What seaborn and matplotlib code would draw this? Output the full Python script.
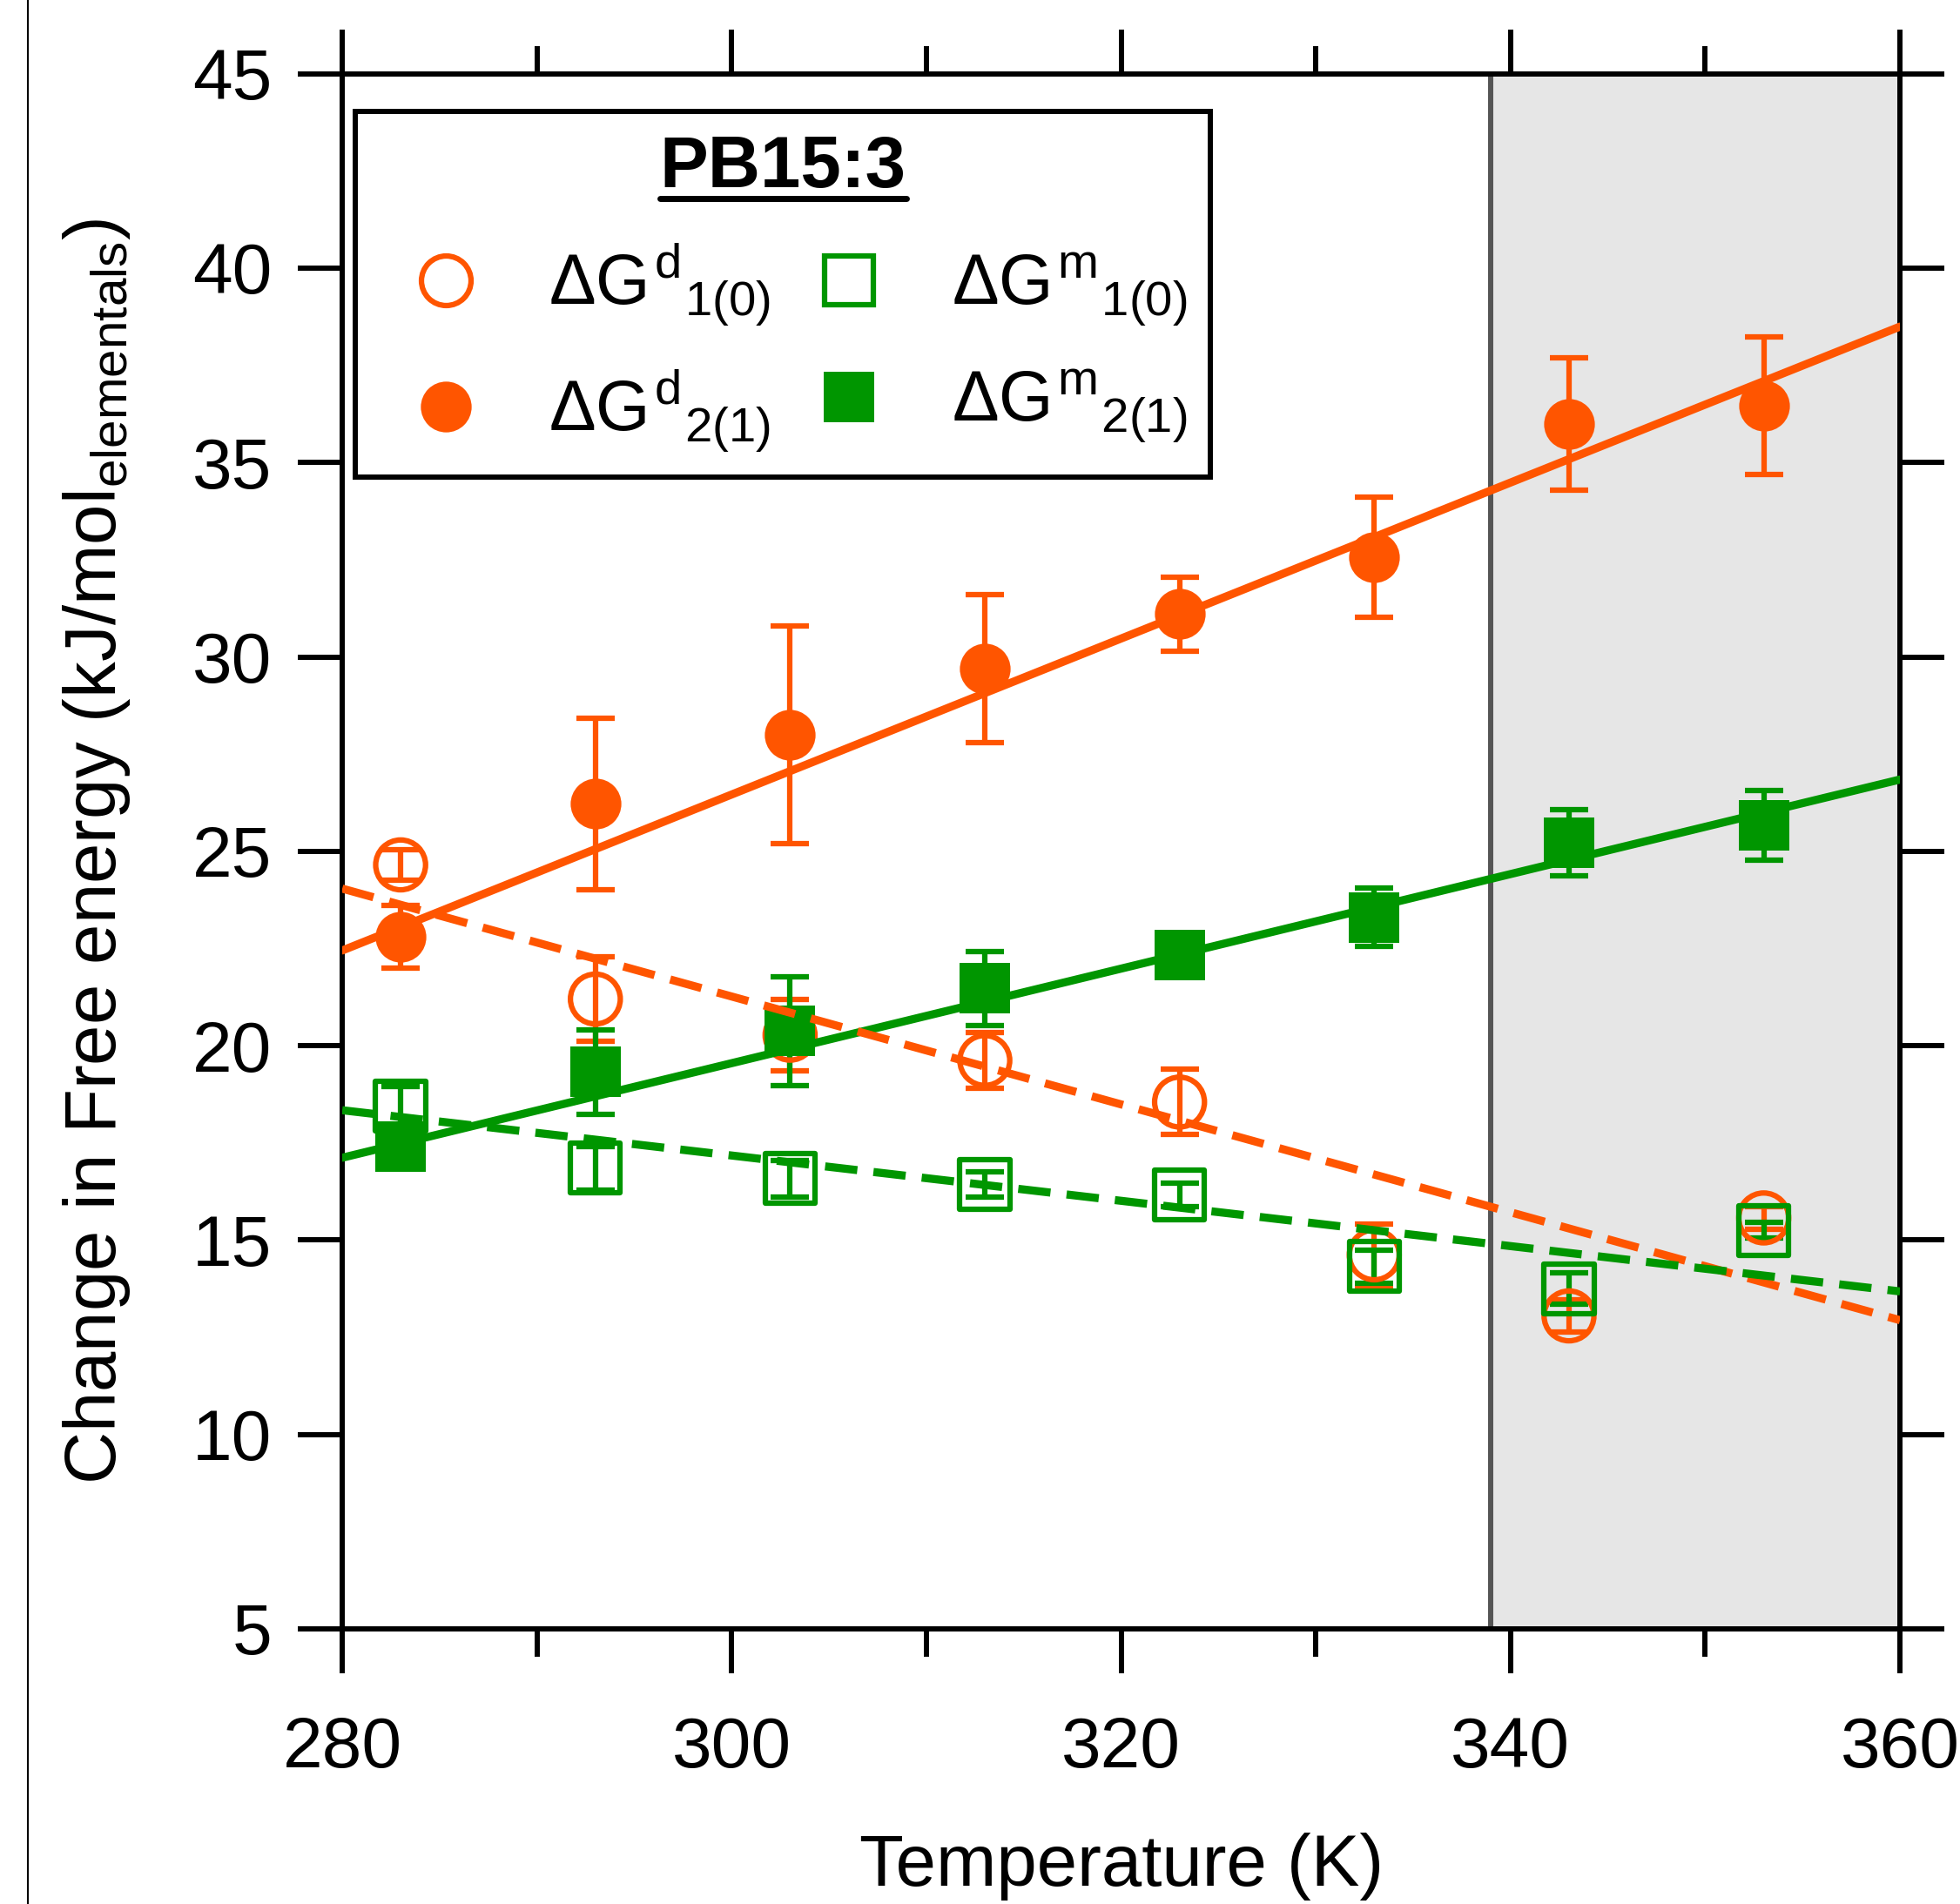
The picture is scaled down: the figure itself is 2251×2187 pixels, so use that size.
import matplotlib
matplotlib.use('Agg')
import matplotlib.pyplot as plt
import seaborn as sns
import numpy as np
from matplotlib.lines import Line2D

# temperatures (K)
temperature = [283, 293, 303, 313, 323, 333, 343, 353]

# dG^d_1(0)  open circles
dGd10 = [24.65, 21.2, 20.27, 19.62, 18.55, 14.62, 13.05, 15.57]
dGd10_err = [0.4, 1.08, 0.92, 0.71, 0.84, 0.79, 0.42, 0.3]
# dG^d_2(1)  filled circles
dGd21 = [22.8, 26.22, 28.0, 29.7, 31.1, 32.56, 35.99, 36.46]
dGd21_err = [0.8, 2.2, 2.8, 1.9, 0.95, 1.55, 1.71, 1.77]
# dG^m_1(0)  open squares
dGm10 = [18.44, 16.85, 16.58, 16.43, 16.16, 14.32, 13.75, 15.25]
dGm10_err = [0.5, 0.56, 0.47, 0.32, 0.3, 0.42, 0.4, 0.2]
# dG^m_2(1)  filled squares
dGm21 = [17.4, 19.32, 20.38, 21.47, 22.33, 23.3, 25.22, 25.67]
dGm21_err = [0.5, 1.08, 1.4, 0.96, 0.3, 0.75, 0.86, 0.9]

# linear fits (slope, intercept)
fit_d10 = [-0.13875, 62.89]
fit_d21 = [0.2006, -33.72]
fit_m10 = [-0.05825, 34.65]
fit_m21 = [0.1216, -16.93]

shade_start = 339

orange = '#ff5500'
green = '#009600'

sns.set_style('ticks')
plt.rcParams['font.family'] = ['Liberation Sans', 'DejaVu Sans']
plt.rcParams['mathtext.fontset'] = 'custom'
plt.rcParams['mathtext.rm'] = 'Liberation Sans'
plt.rcParams['mathtext.it'] = 'Liberation Sans'
plt.rcParams['mathtext.bf'] = 'Liberation Sans:bold'
for k in ['text.color', 'axes.labelcolor', 'xtick.color', 'ytick.color',
          'axes.edgecolor']:
    plt.rcParams[k] = 'black'

fig = plt.figure(figsize=(22.51, 21.87), dpi=100)
ax = fig.add_axes([0.1746, 0.1445, 0.7948, 0.8168])

ax.axvspan(shade_start, 360, color='#e6e6e6', zorder=0, lw=0)
ax.axvline(shade_start, color='#555555', lw=4.3, zorder=1)

series = [
    (dGd10, dGd10_err, 'o', orange, False),
    (dGd21, dGd21_err, 'o', orange, True),
    (dGm10, dGm10_err, 's', green, False),
    (dGm21, dGm21_err, 's', green, True),
]

for y, err, m, c, filled in series:
    ax.errorbar(temperature, y, yerr=err, fmt='none', ecolor=c,
                elinewidth=4.5, capsize=15.5, capthick=4.5, zorder=3)
    if filled:
        sns.scatterplot(x=temperature, y=y, marker=m, s=1760, color=c,
                        edgecolor=c, linewidth=0, ax=ax, zorder=4)
    else:
        sns.scatterplot(x=temperature, y=y, marker=m, s=1700, color=c,
                        facecolor='none', edgecolor=c, linewidth=4.5,
                        ax=ax, zorder=4)

xfit = np.linspace(280, 360, 50)
for fit, c, ls in [(fit_d21, orange, '-'), (fit_m21, green, '-'),
                   (fit_d10, orange, (0, (4, 2))), (fit_m10, green, (0, (4, 2)))]:
    sns.lineplot(x=xfit, y=np.polyval(fit, xfit), color=c, lw=6.7,
                 linestyle=ls, ax=ax, zorder=5)

ax.set_xlim(280, 360)
ax.set_ylim(5, 45)
ax.set_xticks(range(280, 361, 20))
ax.set_xticks(range(290, 360, 20), minor=True)
ax.set_yticks(range(5, 46, 5))
ax.tick_params(which='both', direction='out', top=True, right=True,
               width=4.3, color='black', labelcolor='black')
ax.tick_params(which='major', length=37, labelsize=59)
ax.tick_params(which='minor', length=23)
ax.tick_params(axis='x', which='major', pad=35)
ax.tick_params(axis='y', pad=21)
for sp in ax.spines.values():
    sp.set_linewidth(4.3)
    sp.set_color('black')

ax.set_xlabel('Temperature (K)', fontsize=60, labelpad=42)
ax.set_ylabel(r'Change in Free energy (kJ/mol$_{\mathregular{elementals}}$)',
              fontsize=60, labelpad=50)

handles = [
    Line2D([], [], marker='o', ls='none', markersize=41, mfc='none', mec=orange, mew=4.5),
    Line2D([], [], marker='o', ls='none', markersize=42, mfc=orange, mec=orange, mew=0),
    Line2D([], [], marker='s', ls='none', markersize=41, mfc='none', mec=green, mew=4.5),
    Line2D([], [], marker='s', ls='none', markersize=42, mfc=green, mec=green, mew=0),
]
labels = [r'$\Delta G^{d}{}_{1(0)}$', r'$\Delta G^{d}{}_{2(1)}$',
          r'$\Delta G^{m}{}_{1(0)}$', r'$\Delta G^{m}{}_{2(1)}$']
leg = ax.legend(handles, labels, ncol=2, loc='upper left',
                bbox_to_anchor=(0.0084, 0.9758), borderaxespad=0,
                fontsize=58, frameon=True, fancybox=False, edgecolor='black',
                handlelength=1.93, handletextpad=0.5, columnspacing=0.15,
                labelspacing=0.55, borderpad=0.33)
leg.set_title('PB15:3', prop={'weight': 'bold', 'size': 60})
leg.get_frame().set_linewidth(4.3)
leg.get_frame().set_alpha(1)

fig.canvas.draw()
bb = leg.get_title().get_window_extent(fig.canvas.get_renderer())
bb = bb.transformed(fig.transFigure.inverted())
fig.add_artist(Line2D([bb.x0, bb.x1], [bb.y0 + 0.002, bb.y0 + 0.002],
                      transform=fig.transFigure, color='black', lw=5))

fig.add_artist(Line2D([0.0142, 0.0142], [0, 1], transform=fig.transFigure,
                      color='black', lw=1.5))

fig.savefig('out.png', dpi=100)
